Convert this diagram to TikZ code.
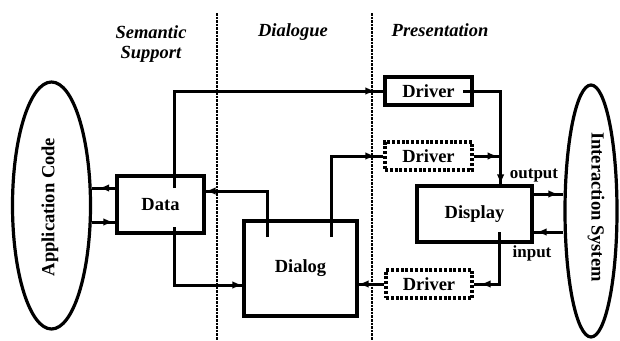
\documentclass[tikz,border=0pt]{standalone}
\usepackage{fontspec}
\setmainfont{Liberation Serif}
\usetikzlibrary{arrows.meta,decorations.markings,shapes.geometric,calc}

\begin{document}
\begin{tikzpicture}[x=1pt,y=-1pt,
  wire/.style={line width=3pt},
  tipat/.style={postaction={decorate},decoration={markings,mark=at position #1 with {\arrow{Latex[length=10pt,width=7.5pt]}}}},
  blk/.style={draw,line width=3.2pt,inner sep=0pt,font=\bfseries\fontsize{18.5}{20}\selectfont},
  dblk/.style={blk,dash pattern=on 3pt off 1.8pt},
  zone/.style={line width=2.6pt,dash pattern=on 2.6pt off 1pt},
  hdr/.style={font=\bfseries\itshape\fontsize{18.5}{20}\selectfont,anchor=base},
  lbl/.style={font=\bfseries\fontsize{17}{19}\selectfont,anchor=base},
  side/.style={draw,ellipse,line width=3.2pt,inner sep=0pt},
  sidetext/.style={font=\bfseries\fontsize{18.5}{20}\selectfont},
]
\useasboundingbox (0,0) rectangle (620,340);

% layer boundaries
\draw[zone] (217,13) -- (217,340);
\draw[zone] (372,13) -- (372,340);

% layer headings
\node[hdr] (hsem) at (151,38) {Semantic};
\node[hdr] (hsup) at (151,58) {Support};
\node[hdr] (hdia) at (293,36) {Dialogue};
\node[hdr] (hpre) at (440,36) {Presentation};

% outer parties
\node[side,minimum width=78pt,minimum height=247pt] (app) at (51.5,205.5) {};
\node[sidetext,rotate=90] (apptext) at (50,207) {Application Code};
\node[side,minimum width=52pt,minimum height=252pt] (ia) at (591,211) {};
\node[sidetext,rotate=-90] (iatext) at (596,207) {Interaction System};

% components
\node[blk,minimum width=87pt,minimum height=57pt] (data) at (160.5,204.5) {Data};
\node[blk,minimum width=113pt,minimum height=95pt] (dialog) at (300.5,268.5) {Dialog};
\node[blk,minimum width=115pt,minimum height=56pt] (disp) at (474.5,214) {Display};
\node[blk,minimum width=87pt,minimum height=28pt] (drv1) at (428.5,91) {Driver};
\node[dblk,minimum width=87pt,minimum height=28pt] (drv2) at (428.5,156) {Driver};
\node[dblk,minimum width=86pt,minimum height=28pt] (drv3) at (429,284) {Driver};

% stubs inside the boxes where wires start
\coordinate (dt) at (174,188);
\coordinate (db) at (174,227);
\coordinate (dgl) at (267,237);
\coordinate (dgr) at (331,237);
\coordinate (d1o) at (463,91);
\coordinate (dpb) at (499,232);

% wires
\draw[wire,tipat=-8pt] (dt) |- (drv1.west);
\draw[wire,tipat=1] (d1o) -| ($(disp.north east)+(-33,0)$);
\draw[wire,tipat=-3pt] (drv2.east) -- ($(drv2.east)+(27,0)$);
\draw[wire,tipat=-8pt] (dgr) |- (drv2.west);
\draw[wire,tipat=1] (dgl) |- ($(data.east)+(0,-13.5)$);
\draw[wire,tipat=1] (db) |- ($(dialog.west)+(0,16.5)$);
\draw[wire,tipat=1] (drv3.west) -- (dialog.east |- drv3.west);
\draw[wire,tipat=-7pt] (dpb) |- (drv3.east);

\draw[wire,tipat=-7pt] ($(data.west)+(0,-16.5)$) -- ($(app.east)+(0,-17.5)$);
\draw[wire,tipat=-2pt] ($(app.east)+(0,16.5)$) -- ($(data.west)+(0,17.5)$);
\draw[wire,tipat=-5pt] ($(disp.east)+(0,-20)$) -- ($(ia.west)+(0,-17)$);
\draw[wire,tipat=-3pt] ($(ia.west)+(0,21)$) -- ($(disp.east)+(0,18)$);

% signal labels
\node[lbl] (lout) at (534,178) {output};
\node[lbl] (lin) at (532,257) {input};
\end{tikzpicture}
\end{document}
